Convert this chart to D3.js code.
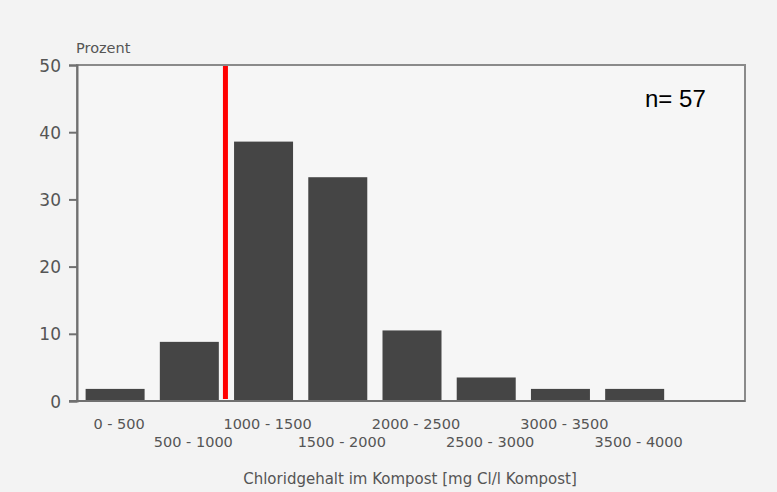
<!DOCTYPE html>
<html><head><meta charset="utf-8">
<script src="https://cdn.jsdelivr.net/npm/d3@7"></script>
<style>html,body{margin:0;padding:0;background:#f3f3f3;}</style>
</head><body>
<script>
const categories = ["0 - 500","500 - 1000","1000 - 1500","1500 - 2000","2000 - 2500","2500 - 3000","3000 - 3500","3500 - 4000"];
const lowerBounds = [0,500,1000,1500,2000,2500,3000,3500];
const percent = [1.8, 8.8, 38.6, 33.3, 10.5, 3.5, 1.8, 1.8];
const yTicks = [0,10,20,30,40,50];
const markerValue = 1000;
const nLabel = "n= 57";
const yTitle = "Prozent";
const xTitle = "Chloridgehalt im Kompost [mg Cl/l Kompost]";

const W = 777, H = 492;
const mLeft = 77, mRight = 745, mTop = 65, mBottom = 401;
const svg = d3.select("body").append("svg").attr("width", W).attr("height", H);
svg.append("rect").attr("width", W).attr("height", H).attr("fill", "#f3f3f3");

const x = d3.scaleLinear().domain([0, 4500]).range([mLeft, mRight]);
const y = d3.scaleLinear().domain([0, 50]).range([mBottom, mTop]);
const step = x(500) - x(0);
const bw = 59;

// plot frame
svg.append("rect").attr("x", mLeft).attr("y", mTop).attr("width", mRight-mLeft).attr("height", mBottom-mTop)
  .attr("fill", "#f6f6f6").attr("stroke", "#8a8a8a").attr("stroke-width", 2);

// bars
svg.selectAll("rect.bar").data(percent).enter().append("rect").attr("class","bar")
  .attr("x", (d,i) => x(lowerBounds[i]) + (step - bw)/2 + 1)
  .attr("width", bw)
  .attr("y", d => y(d))
  .attr("height", d => y(0) - y(d))
  .attr("fill", "#454545");

// y axis
const yAxis = d3.axisLeft(y).tickValues(yTicks).tickSize(8).tickPadding(8);
const gy = svg.append("g").attr("transform", `translate(${mLeft},0)`).call(yAxis);
gy.select(".domain").attr("stroke", "#707070").attr("stroke-width", 2);
gy.selectAll(".tick line").attr("stroke", "#707070").attr("stroke-width", 2);
gy.selectAll(".tick text").attr("fill", "#555").attr("font-family", "DejaVu Sans, sans-serif")
  .attr("font-size", 17).attr("dy", "0.36em");

// baseline
svg.append("line").attr("x1", mLeft - 8).attr("x2", mRight).attr("y1", y(0)).attr("y2", y(0))
  .attr("stroke", "#707070").attr("stroke-width", 2);

// x labels (staggered)
svg.selectAll("text.xl").data(categories).enter().append("text").attr("class","xl")
  .attr("x", (d,i) => x(lowerBounds[i]) + step/2 + 5)
  .attr("y", (d,i) => i % 2 === 0 ? 429 : 447)
  .attr("text-anchor", "middle")
  .attr("font-family", "DejaVu Sans, sans-serif").attr("font-size", 14.5)
  .attr("fill", "#555").text(d => d);

// red marker line
svg.append("line").attr("x1", x(markerValue)).attr("x2", x(markerValue))
  .attr("y1", mTop + 1).attr("y2", y(0) - 2)
  .attr("stroke", "#ff0000").attr("stroke-width", 5);

// titles
svg.append("text").attr("x", mLeft - 1).attr("y", 53).attr("font-family", "DejaVu Sans, sans-serif")
  .attr("font-size", 14.5).attr("fill", "#555").text(yTitle);
svg.append("text").attr("x", 410).attr("y", 484).attr("text-anchor", "middle")
  .attr("font-family", "DejaVu Sans, sans-serif").attr("font-size", 15).attr("fill", "#555").text(xTitle);
svg.append("text").attr("x", 645).attr("y", 107).attr("font-family", "Liberation Sans, Arial, sans-serif")
  .attr("font-size", 24).attr("fill", "#000").text(nLabel);
</script>
</body></html>
